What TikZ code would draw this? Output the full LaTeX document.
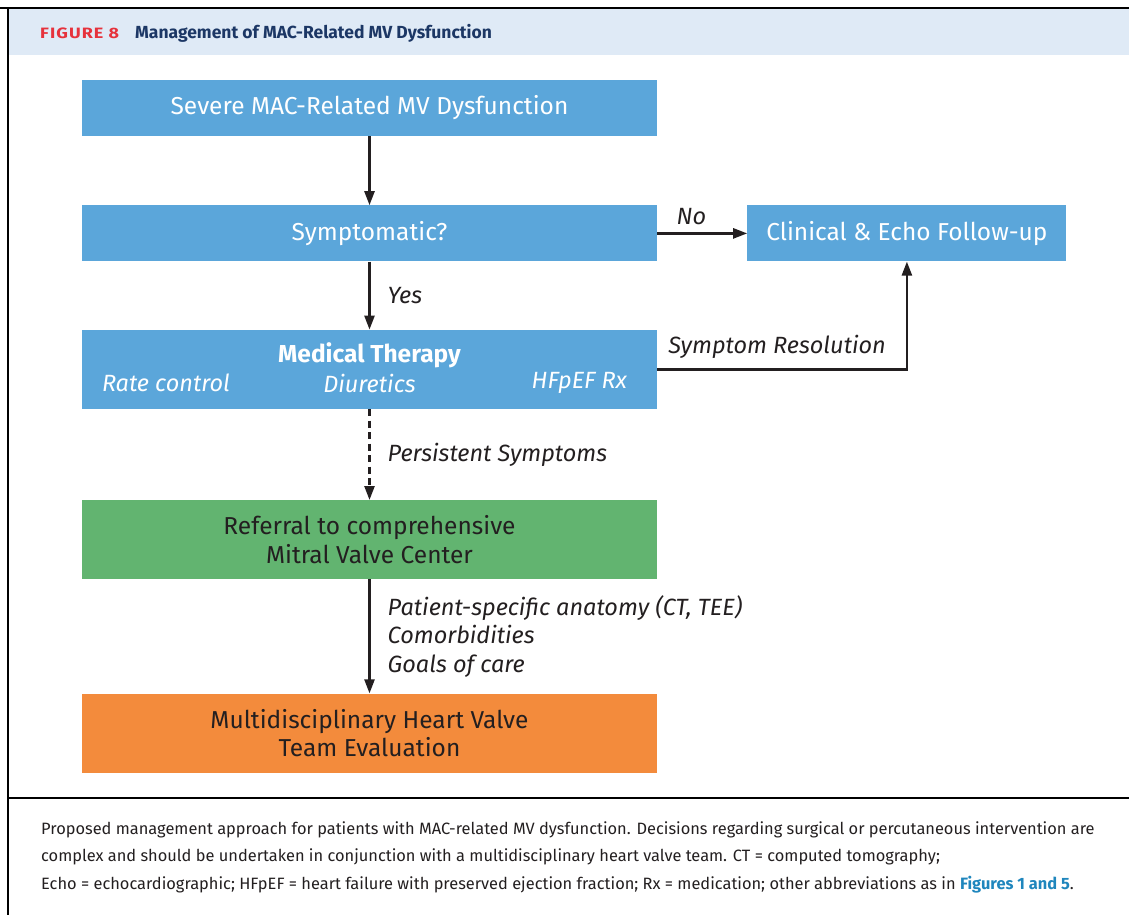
\documentclass[tikz,border=0pt]{standalone}
\usepackage{fontspec}
\setmainfont{Fira Sans}
\usepackage{xcolor}
\usetikzlibrary{positioning, arrows.meta}

\definecolor{boxblue}{HTML}{5BA6DA}
\definecolor{boxgreen}{HTML}{62B470}
\definecolor{boxorange}{HTML}{F38B3C}
\definecolor{headbg}{HTML}{DFEAF6}
\definecolor{figred}{HTML}{E6323C}
\definecolor{navy}{HTML}{1C3765}
\definecolor{inkdark}{HTML}{231F20}
\definecolor{linkblue}{HTML}{1F86BD}

\begin{document}
\begin{tikzpicture}[
    x=1pt, y=-1pt,
    node distance=69pt,
    flowbox/.style={rectangle, minimum width=575pt, minimum height=56pt, align=center, inner sep=0pt, font=\fontsize{24.5}{28.5}\selectfont},
    bluebox/.style={flowbox, fill=boxblue, text=white},
    greenbox/.style={flowbox, fill=boxgreen, text=inkdark, minimum height=79pt},
    orangebox/.style={flowbox, fill=boxorange, text=inkdark, minimum height=79pt},
    lbl/.style={inner sep=0pt, align=left, text=inkdark, font=\fontsize{23.5}{28.5}\selectfont\itshape},
    item/.style={inner sep=0pt, text=white, font=\fontsize{23.5}{28}\selectfont\itshape},
    arr/.style={-{Triangle[length=14pt, width=10pt]}, line width=2.4pt, draw=inkdark},
    frame/.style={line width=2.4pt, draw=black}
]
\useasboundingbox (0,0) rectangle (1129,915);

% Header band and frame
\fill[headbg] (9,9) rectangle (1129,55);
\draw[frame] (0,8) -- (1129,8);
\draw[frame] (8,8) -- (8,915);
\draw[frame] (8,798) -- (1129,798);
\node[anchor=west, inner sep=0pt, text=figred, font=\fontsize{15}{18}\selectfont\bfseries\addfontfeatures{FakeStretch=1.2, LetterSpace=7}] (fignum) at (40,33) {FIGURE 8};
\node[anchor=west, inner sep=0pt, text=navy, font=\fontsize{17.5}{18}\selectfont\bfseries] (title) at (135,33) {Management of MAC-Related MV Dysfunction};

% Main column
\node[bluebox] (severe) at (369.5,108) {Severe MAC-Related MV Dysfunction};
\node[bluebox, below=of severe] (symp) {Symptomatic?};
\node[bluebox, below=68pt of symp, minimum height=79pt] (med) {};
\node[greenbox, below=91pt of med] (referral) {Referral to comprehensive\\Mitral Valve Center};
\node[orangebox, below=114pt of referral] (team) {Multidisciplinary Heart Valve\\Team Evaluation};

% Side box
\node[bluebox, minimum width=319pt, right=90pt of symp] (clinic) {Clinical \& Echo Follow-up};

% Medical therapy contents
\node[inner sep=0pt, text=white, font=\fontsize{24.5}{28}\selectfont\bfseries] (medtitle) at ([yshift=14pt]med.center) {Medical Therapy};
\node[item, anchor=west] (rate) at ([xshift=20pt, yshift=-14pt]med.west) {Rate control};
\node[item] (diur) at ([yshift=-14pt]med.center) {Diuretics};
\node[item, anchor=east] (hfpef) at ([xshift=-30pt, yshift=-14pt]med.east) {HFpEF Rx};

% Connectors
\draw[arr] (severe) -- (symp);
\draw[arr] (symp) -- node[lbl, above=7pt, pos=0.38] {No} (clinic);
\draw[arr] (symp) -- node[lbl, right=17pt] {Yes} (med);
\draw[arr] (med.east) -| node[lbl, above=10pt, pos=0.24] {Symptom Resolution} (clinic.south);
\draw[arr, dash pattern=on 7pt off 4.5pt] (med) -- node[lbl, right=17pt] {Persistent Symptoms} (referral);
\draw[arr] (referral) -- node[lbl, right=17pt] {Patient-specific anatomy (CT, TEE)\\Comorbidities\\Goals of care} (team);

% Caption
\node[anchor=north west, inner sep=0pt, align=left, text=inkdark, font=\fontsize{16.4}{27.5}\selectfont] (caption) at (41,821) {Proposed management approach for patients with MAC-related MV dysfunction. Decisions regarding surgical or percutaneous intervention are\\complex and should be undertaken in conjunction with a multidisciplinary heart valve team. CT = computed tomography;\\Echo = echocardiographic; HFpEF = heart failure with preserved ejection fraction; Rx = medication; other abbreviations as in {\color{linkblue}\bfseries Figures 1 and 5}.};

\end{tikzpicture}
\end{document}
